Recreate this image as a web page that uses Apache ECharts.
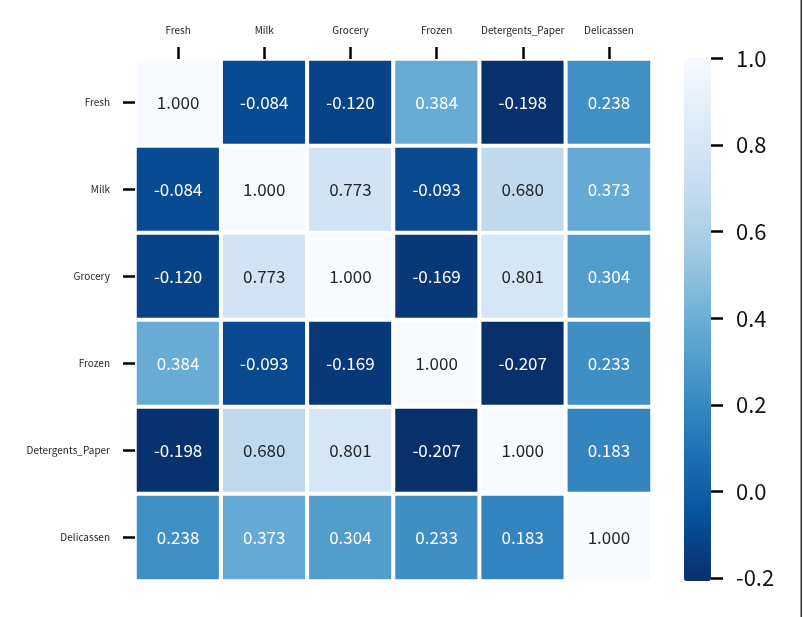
<!DOCTYPE html>
<html lang="en">
<head>
    <meta charset="UTF-8">
    <script src="https://cdn.jsdelivr.net/npm/echarts@6/dist/echarts.min.js"></script>
    <title>Correlation heatmap</title>
    <style>
        html, body { margin: 0; padding: 0; background: #fff; }
    </style>
</head>
<body>
<div id="main" style="width: 803px;height:617px;"></div>
<script type="text/javascript">
    // 变量名（行列相同）
    var labels = ['Fresh', 'Milk', 'Grocery', 'Frozen', 'Detergents_Paper', 'Delicassen'];

    // 相关系数矩阵，每行一个变量
    var rowFresh     = [1.000, -0.084, -0.120, 0.384, -0.198, 0.238];
    var rowMilk      = [-0.084, 1.000, 0.773, -0.093, 0.680, 0.373];
    var rowGrocery   = [-0.120, 0.773, 1.000, -0.169, 0.801, 0.304];
    var rowFrozen    = [0.384, -0.093, -0.169, 1.000, -0.207, 0.233];
    var rowDetergent = [-0.198, 0.680, 0.801, -0.207, 1.000, 0.183];
    var rowDeli      = [0.238, 0.373, 0.304, 0.233, 0.183, 1.000];
    var matrix = [rowFresh, rowMilk, rowGrocery, rowFrozen, rowDetergent, rowDeli];

    // 色条刻度
    var cbarTicks = [-0.2, 0.0, 0.2, 0.4, 0.6, 0.8, 1.0];
    var vMin = -0.207, vMax = 1.0;

    // Blues 反转：低值深色
    var bluesR = ['#08306b', '#08519c', '#2171b5', '#4292c6', '#6baed6',
                  '#9ecae1', '#c6dbef', '#deebf7', '#f7fbff'];

    var data = [];
    for (var i = 0; i < matrix.length; i++) {
        for (var j = 0; j < matrix[i].length; j++) {
            var v = matrix[i][j];
            data.push({
                value: [j, i, v],
                label: { color: v > 0.6 ? '#262626' : '#ffffff' }
            });
        }
    }

    var font = '"Noto Sans CJK SC", "Noto Sans", sans-serif';
    var hiddenLine = { show: true, onZero: false, lineStyle: { color: 'rgba(0,0,0,0)', width: 0 } };
    var tickStyle = { color: '#000', width: 2.5 };

    var myChart = echarts.init(document.getElementById('main'));
    var option = {
        backgroundColor: '#fff',
        animation: false,
        textStyle: { fontFamily: font },
        grid: [
            { left: 135, top: 59, width: 517, height: 522 },
            { left: 684, top: 58.5, width: 27, height: 522.5 }
        ],
        xAxis: [
            {
                type: 'category',
                gridIndex: 0,
                position: 'top',
                z: 5,
                data: labels,
                axisLine: hiddenLine,
                axisTick: { show: true, inside: false, alignWithLabel: true, interval: 0, length: 12, lineStyle: tickStyle },
                axisLabel: { interval: 0, fontSize: 10, color: '#262626', margin: 24, fontFamily: font },
                splitLine: { show: false }
            },
            { type: 'category', gridIndex: 1, show: false, data: [''] }
        ],
        yAxis: [
            {
                type: 'category',
                gridIndex: 0,
                inverse: true,
                z: 5,
                data: labels,
                axisLine: hiddenLine,
                axisTick: { show: true, inside: false, alignWithLabel: true, interval: 0, length: 12, lineStyle: tickStyle },
                axisLabel: { interval: 0, fontSize: 10, color: '#262626', margin: 25, fontFamily: font },
                splitLine: { show: false }
            },
            {
                type: 'value',
                gridIndex: 1,
                position: 'right',
                min: vMin,
                max: vMax,
                axisLine: hiddenLine,
                splitLine: { show: false },
                axisTick: { show: true, inside: false, length: 12, customValues: cbarTicks, lineStyle: tickStyle },
                axisLabel: {
                    customValues: cbarTicks,
                    fontSize: 22, color: '#111', margin: 25, fontFamily: font,
                    formatter: function (v) { return v.toFixed(1); }
                }
            }
        ],
        visualMap: {
            type: 'continuous',
            min: vMin,
            max: vMax,
            seriesIndex: 0,
            calculable: false,
            left: 684,
            top: 58.5,
            padding: 0,
            itemWidth: 27,
            itemHeight: 522.5,
            inRange: { color: bluesR }
        },
        series: [{
            type: 'heatmap',
            xAxisIndex: 0,
            yAxisIndex: 0,
            data: data,
            itemStyle: { borderColor: '#fff', borderWidth: 4 },
            label: {
                show: true,
                fontSize: 17,
                fontFamily: font,
                formatter: function (p) { return p.value[2].toFixed(3); }
            },
            emphasis: { disabled: true }
        }],
        graphic: [{
            type: 'rect',
            shape: { x: 800.5, y: 0, width: 1.5, height: 617 },
            style: { fill: '#333' }
        }]
    };
    myChart.setOption(option);
</script>
</body>
</html>
